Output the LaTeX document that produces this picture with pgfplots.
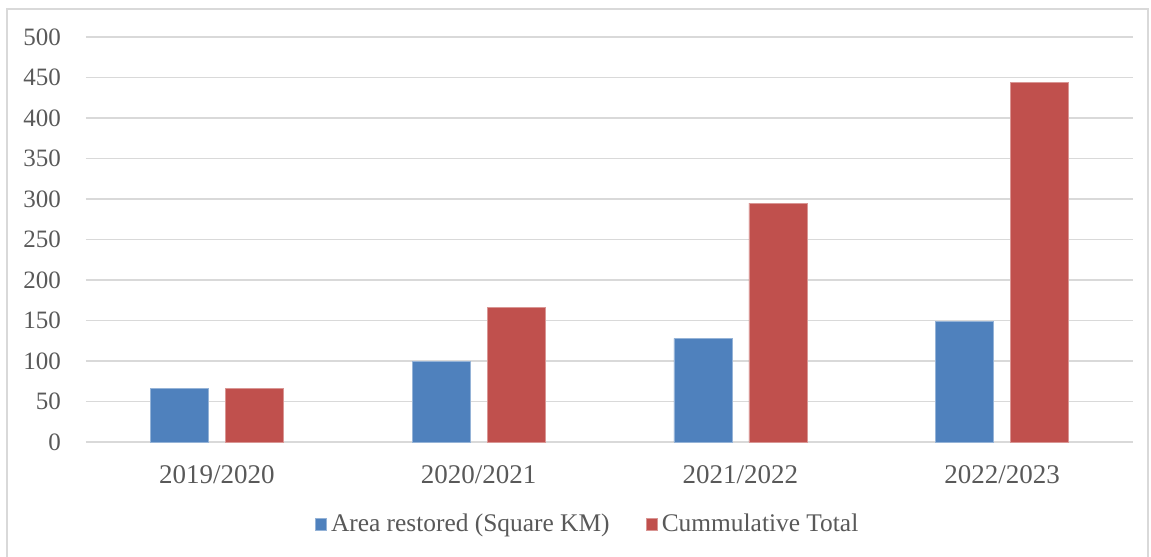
\documentclass[border=0pt]{standalone}
\usepackage{pgfplots}
\pgfplotsset{compat=1.18}
\usepackage{fontspec}
\setmainfont{Liberation Serif}
\definecolor{barblue}{HTML}{4F81BD}
\definecolor{barred}{HTML}{C0504D}
\definecolor{gridgray}{HTML}{D9D9D9}
\definecolor{txt}{HTML}{595959}
\begin{document}
\begin{tikzpicture}
\begin{axis}[
    scale only axis,
    width=523.5pt, height=202.5pt,
    ybar=8.5pt, bar width=29pt,
    xmin=-0.5, xmax=3.5,
    ymin=0, ymax=500,
    ytick={0,50,...,500},
    xtick=data,
    xticklabels={2019/2020,2020/2021,2021/2022,2022/2023},
    axis line style={draw=none},
    major tick length=0pt,
    ymajorgrids=true,
    grid style={gridgray, line width=0.9pt},
    tick label style={font=\fontsize{12.5}{14}\selectfont, text=txt},
    xticklabel style={font=\fontsize{13.5}{15}\selectfont, yshift=-8pt},
    yticklabel style={xshift=-9pt},
    /pgf/number format/assume math mode=true,
    legend style={at={(0.48,-0.203)}, anchor=center, draw=none,
        legend columns=-1, font=\fontsize{12.7}{14}\selectfont, text=txt,
        /tikz/every even column/.append style={column sep=16pt}},
    legend image code/.code={\fill[#1] (0pt,-2.9pt) rectangle (5.8pt,2.9pt);},
    clip=false,
]
\addplot[fill=barblue, draw=barblue!60!white, line width=0.3pt] coordinates {(0,66) (1,100) (2,128) (3,149)};
\addlegendentry{Area restored (Square KM)}
\addplot[fill=barred, draw=barred!60!white, line width=0.3pt] coordinates {(0,66) (1,166) (2,295) (3,444)};
\addlegendentry{Cummulative Total}
\coordinate (fa) at (rel axis cs:-0.0755,-0.30);
\coordinate (fb) at (rel axis cs:1.0143,1.069);
\coordinate (ba) at (rel axis cs:-0.0821,-0.2815);
\coordinate (bb) at (rel axis cs:1.0172,1.0914);
\end{axis}
\draw[gridgray, line width=1pt] (fa) rectangle (fb);
\pgfresetboundingbox
\useasboundingbox (ba) rectangle (bb);
\end{tikzpicture}
\end{document}
